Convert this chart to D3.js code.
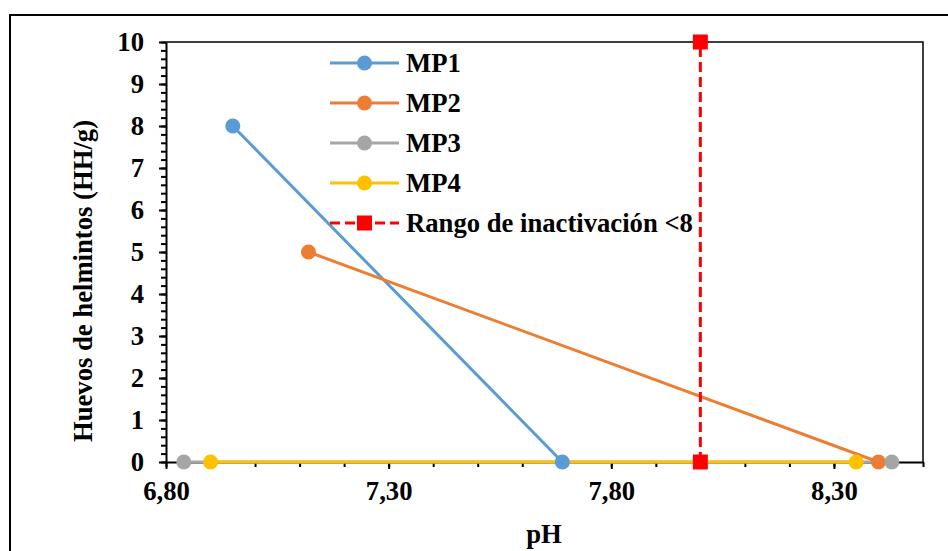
<!DOCTYPE html>
<html>
<head>
<meta charset="utf-8">
<script src="https://cdn.jsdelivr.net/npm/d3@7"></script>
<style>
  html, body { margin: 0; padding: 0; background: #fff; }
  svg { display: block; }
</style>
</head>
<body>
<svg id="chart" width="948" height="551" font-family="Liberation Serif"></svg>
<script>
// pH readings and helminth egg counts per sampling point
const seriesNames = ["MP1", "MP2", "MP3", "MP4"];
const seriesColors = ["#5B9BD5", "#ED7D31", "#A5A5A5", "#FFC000"];
const mp1 = [[6.95, 8], [7.69, 0]];
const mp2 = [[7.12, 5], [8.40, 0]];
const mp3 = [[6.84, 0], [8.43, 0]];
const mp4 = [[6.90, 0], [8.35, 0]];
// inactivation threshold at pH 8
const rango = [[8.0, 0], [8.0, 10]];
const rangoLabel = "Rango de inactivación <8";

const xTicks = [6.8, 7.3, 7.8, 8.3];
const yTicks = [0, 1, 2, 3, 4, 5, 6, 7, 8, 9, 10];
const xTitle = "pH";
const yTitle = "Huevos de helmintos (HH/g)";

const FONT = "Liberation Serif";
const FS = 26.67;

const svg = d3.select("#chart");
const W = 948, H = 551;
const plot = { left: 166, right: 923, top: 42, bottom: 462 };

const x = d3.scaleLinear().domain([6.8, 8.5]).range([plot.left, plot.right]);
const y = d3.scaleLinear().domain([0, 10]).range([plot.bottom, plot.top]);

const styleText = sel => sel
  .attr("font-family", FONT)
  .attr("font-weight", "bold")
  .attr("font-size", FS)
  .attr("fill", "#000");

// outer chart frame (runs past the right and bottom edges)
svg.append("rect")
  .attr("x", 10).attr("y", 15)
  .attr("width", W).attr("height", H)
  .attr("fill", "none").attr("stroke", "#000").attr("stroke-width", 2);

// plot border (top and right)
svg.append("path")
  .attr("d", `M${plot.left},${plot.top}H${plot.right}V${plot.bottom}`)
  .attr("fill", "none").attr("stroke", "#000").attr("stroke-width", 1.5);

const fmtComma = d => d3.format(".2f")(d).replace(".", ",");

// x minor ticks
const xMinor = d3.range(68, 86, 1).map(v => v / 10);
svg.append("g")
  .attr("transform", `translate(0,${plot.bottom})`)
  .call(d3.axisBottom(x).tickValues(xMinor).tickSize(5).tickFormat(""))
  .call(g => g.select(".domain").remove())
  .call(g => g.selectAll("line").attr("stroke", "#000").attr("stroke-width", 2));

// x axis
svg.append("g")
  .attr("transform", `translate(0,${plot.bottom})`)
  .call(d3.axisBottom(x).tickValues(xTicks).tickSize(7).tickSizeOuter(0).tickPadding(12).tickFormat(fmtComma))
  .call(g => g.attr("font-family", FONT))
  .call(g => g.select(".domain").attr("stroke", "#000").attr("stroke-width", 2))
  .call(g => g.selectAll("line").attr("stroke", "#000").attr("stroke-width", 2))
  .call(g => g.selectAll("text").call(styleText));

// y minor ticks
const yMinor = d3.range(0, 51, 1).map(v => v / 5);
svg.append("g")
  .attr("transform", `translate(${plot.left},0)`)
  .call(d3.axisLeft(y).tickValues(yMinor).tickSize(5).tickFormat(""))
  .call(g => g.select(".domain").remove())
  .call(g => g.selectAll("line").attr("stroke", "#000").attr("stroke-width", 2));

// y axis
svg.append("g")
  .attr("transform", `translate(${plot.left},0)`)
  .call(d3.axisLeft(y).tickValues(yTicks).tickSize(7).tickSizeOuter(0).tickPadding(15).tickFormat(d3.format("d")))
  .call(g => g.attr("font-family", FONT))
  .call(g => g.select(".domain").attr("stroke", "#000").attr("stroke-width", 2))
  .call(g => g.selectAll("line").attr("stroke", "#000").attr("stroke-width", 2))
  .call(g => g.selectAll("text").call(styleText));

// axis titles
svg.append("text")
  .attr("x", 544).attr("y", 543)
  .attr("text-anchor", "middle")
  .call(styleText)
  .text(xTitle);

svg.append("text")
  .attr("transform", "translate(92,281) rotate(-90)")
  .attr("text-anchor", "middle")
  .call(styleText)
  .text(yTitle);

const line = d3.line().x(d => x(d[0])).y(d => y(d[1]));
const allSeries = [mp1, mp2, mp3, mp4];

// series lines
allSeries.forEach((s, i) => {
  svg.append("path")
    .datum(s)
    .attr("d", line)
    .attr("fill", "none")
    .attr("stroke", seriesColors[i])
    .attr("stroke-width", 3);
});

svg.append("path")
  .datum(rango)
  .attr("d", line)
  .attr("fill", "none")
  .attr("stroke", "#FF0000")
  .attr("stroke-width", 3)
  .attr("stroke-dasharray", "10,5");

// markers
allSeries.forEach((s, i) => {
  svg.append("g").selectAll("circle")
    .data(s).join("circle")
    .attr("cx", d => x(d[0])).attr("cy", d => y(d[1]))
    .attr("r", 7.5)
    .attr("fill", seriesColors[i]);
});

svg.append("g").selectAll("rect")
  .data(rango).join("rect")
  .attr("x", d => x(d[0]) - 7.5).attr("y", d => y(d[1]) - 7.5)
  .attr("width", 15).attr("height", 15)
  .attr("fill", "#FF0000");

// legend
const legend = svg.append("g").attr("transform", "translate(330,63)");
const legendItems = seriesNames.map((n, i) => ({ name: n, color: seriesColors[i], dash: null, square: false }))
  .concat([{ name: rangoLabel, color: "#FF0000", dash: "10,5", square: true }]);

legendItems.forEach((it, i) => {
  const g = legend.append("g").attr("transform", `translate(0,${i * 40})`);
  g.append("line")
    .attr("x1", 0).attr("x2", 69).attr("y1", 0).attr("y2", 0)
    .attr("stroke", it.color).attr("stroke-width", 3)
    .attr("stroke-dasharray", it.dash);
  if (it.square) {
    g.append("rect").attr("x", 34.5 - 7.5).attr("y", -7.5).attr("width", 15).attr("height", 15).attr("fill", it.color);
  } else {
    g.append("circle").attr("cx", 34.5).attr("cy", 0).attr("r", 7.5).attr("fill", it.color);
  }
  g.append("text")
    .attr("x", 76).attr("y", 0).attr("dy", "0.35em")
    .call(styleText)
    .text(it.name);
});
</script>
</body>
</html>
